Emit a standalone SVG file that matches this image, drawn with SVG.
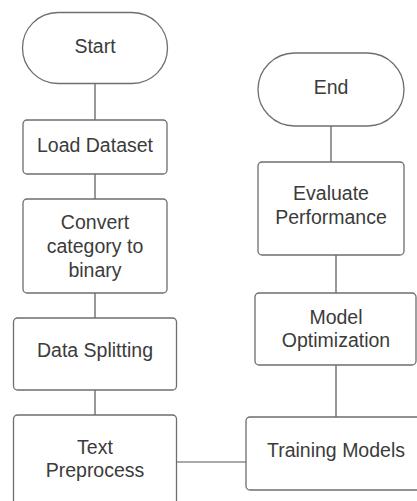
<svg xmlns="http://www.w3.org/2000/svg" width="417" height="501" viewBox="0 0 417 501">
<style>
.n{fill:#fff;stroke:#6e6e6e;stroke-width:1.3}
.t{font-family:"Liberation Sans",Arial,sans-serif;font-size:19.5px;fill:#3b3b3b;text-anchor:middle}
.c{stroke:#555;stroke-width:1.2;fill:none}
</style>
<rect width="417" height="501" fill="#fff"/>
<g id="connectors">
<path class="c" d="M95 83V120M95 174V199M95 293V318M95 390V415M176.5 462H246M331 126V162M336 255V293M336 365V417"/>
</g>
<g id="start"><rect class="n" x="22.5" y="12.5" width="145" height="71" rx="35.5"/><text class="t" x="95" y="53">Start</text></g>
<g id="load"><rect class="n" x="23" y="120" width="144" height="54" rx="4"/><text class="t" x="95" y="152">Load Dataset</text></g>
<g id="convert"><rect class="n" x="23" y="199" width="144" height="94" rx="4"/><text class="t" x="95" y="229">Convert</text><text class="t" x="95" y="253">category to</text><text class="t" x="95" y="277">binary</text></g>
<g id="split"><rect class="n" x="13.5" y="318" width="163" height="72" rx="4"/><text class="t" x="95" y="357">Data Splitting</text></g>
<g id="preprocess"><rect class="n" x="13.5" y="415" width="163" height="100" rx="4"/><text class="t" x="95" y="454">Text</text><text class="t" x="95" y="477">Preprocess</text></g>
<g id="end"><rect class="n" x="258" y="53" width="146" height="73" rx="36.5"/><text class="t" x="331" y="94">End</text></g>
<g id="evaluate"><rect class="n" x="258" y="162" width="146" height="93" rx="4"/><text class="t" x="331" y="200">Evaluate</text><text class="t" x="331" y="224">Performance</text></g>
<g id="optimize"><rect class="n" x="255" y="293" width="161" height="72" rx="4"/><text class="t" x="336" y="324">Model</text><text class="t" x="336" y="347">Optimization</text></g>
<g id="training"><rect class="n" x="246" y="417" width="180" height="73" rx="4"/><text class="t" x="336" y="457">Training Models</text></g>
</svg>
